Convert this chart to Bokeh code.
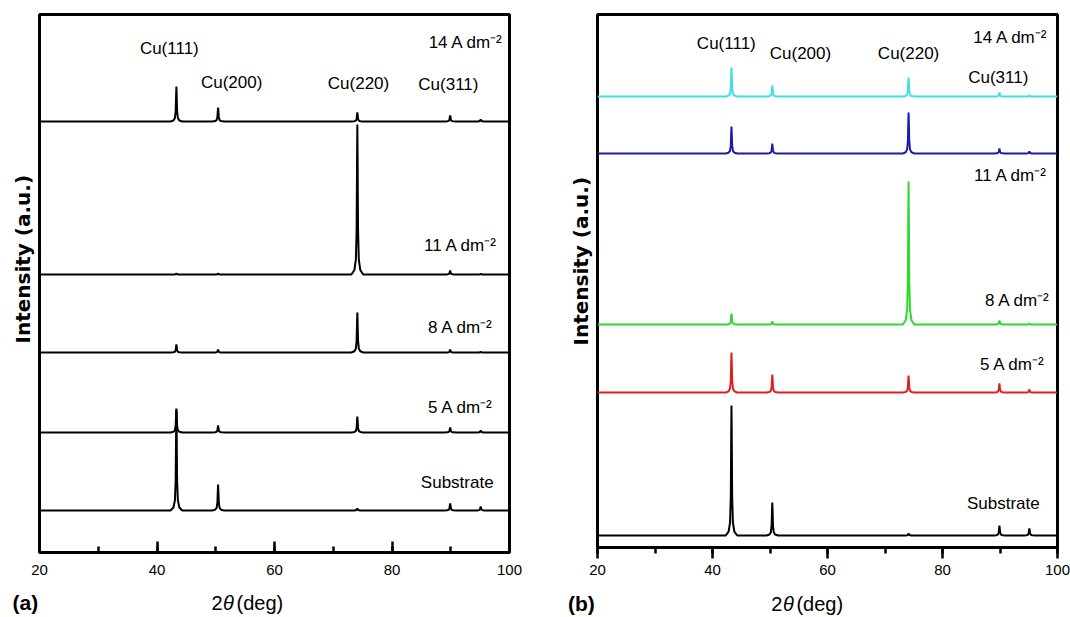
from bokeh.plotting import figure
from bokeh.layouts import row
from bokeh.models import Label, SingleIntervalTicker, Title
from bokeh.embed import file_html
from bokeh.resources import INLINE

# Cu reflections, 2θ in degrees
peak_2theta = [43.3, 50.4, 74.1, 89.9, 95.1]
peak_names = ["Cu(111)", "Cu(200)", "Cu(220)", "Cu(311)"]

# sample order, bottom to top
samples = ["Substrate", "5 A dm⁻²", "8 A dm⁻²", "11 A dm⁻²", "14 A dm⁻²"]

# panel (a): peak heights (a.u.) in peak_2theta order, and vertical offsets
a_substrate = [102, 26, 2, 7, 4]
a_5 = [23, 7, 16, 5, 2]
a_8 = [8, 3, 40, 3, 0.5]
a_11 = [1, 1, 150, 4, 0.5]
a_14 = [35, 14, 9, 6, 2]
a_offsets = [42, 120, 200, 278, 431]

# panel (b)
b_substrate = [130, 33, 2, 10, 7]
b_5 = [40, 18, 17, 9, 3]
b_8 = [11, 3, 143, 4, 1]
b_11 = [27, 10, 41, 5, 2]
b_14 = [29, 11, 19, 4, 1]
b_offsets = [12, 155, 223, 394, 451]

a_heights = [a_substrate, a_5, a_8, a_11, a_14]
b_heights = [b_substrate, b_5, b_8, b_11, b_14]

a_colors = ["black"] * 5
b_colors = ["black", "#e01e1e", "#2ed82e", "#1c1ca6", "#3fe0e0"]

X_MIN, X_MAX = 20, 100

# shape of a single sharp reflection: offsets in 2θ and fraction of peak height
PROFILE_DX = [-1.0, -0.5, -0.25, -0.12, -0.05, 0.0, 0.05, 0.12, 0.25, 0.5, 1.0]
PROFILE_F = [0.0, 0.03, 0.1, 0.3, 0.75, 1.0, 0.75, 0.3, 0.1, 0.03, 0.0]

SANS = "Liberation Sans"


def pattern(heights, offset):
    xs, ys = [X_MIN], [offset]
    for pos, h in zip(peak_2theta, heights):
        for dx, f in zip(PROFILE_DX, PROFILE_F):
            xs.append(pos + dx)
            ys.append(offset + h * f)
    xs.append(X_MAX)
    ys.append(offset)
    return xs, ys


def make_panel(frame_w, frame_h, b_left, b_right, b_top, b_bottom, y_max,
               heights, offsets, colors, ticks_inside):
    p = figure(frame_width=frame_w, frame_height=frame_h,
               x_range=(X_MIN, X_MAX), y_range=(0, y_max),
               output_backend="svg", toolbar_location=None, y_axis_location=None,
               min_border_left=b_left, min_border_right=b_right,
               min_border_top=b_top, min_border_bottom=b_bottom)
    p.grid.visible = False
    p.outline_line_color = "black"
    p.outline_line_width = 3
    p.outline_line_alpha = 1
    p.background_fill_color = "white"
    p.border_fill_color = "white"

    ax = p.xaxis[0]
    ax.ticker = SingleIntervalTicker(interval=20, num_minor_ticks=2)
    ax.axis_line_width = 3
    ax.major_tick_line_width = 2.5
    ax.minor_tick_line_width = 2.5
    if ticks_inside:
        ax.major_tick_in, ax.major_tick_out = 11, 0
        ax.minor_tick_in, ax.minor_tick_out = 6, 0
        ax.major_label_standoff = 12
    else:
        ax.major_tick_in, ax.major_tick_out = 0, 11
        ax.minor_tick_in, ax.minor_tick_out = 0, 6
        ax.major_label_standoff = 6
    ax.major_label_text_font = SANS
    ax.major_label_text_font_size = "15px"
    ax.major_label_text_color = "black"

    for h, off, c in zip(heights, offsets, colors):
        xs, ys = pattern(h, off)
        p.line(xs, ys, line_color=c, line_width=2)
    return p


def add_text(p, x, y, text, size="17px", align="center", font=SANS,
             style="normal", x_offset=0, place=None):
    lbl = Label(x=x, y=y, text=text, text_font=font, text_font_size=size,
                text_font_style=style, text_align=align, text_baseline="middle",
                text_color="black", x_offset=x_offset)
    if place is None:
        p.add_layout(lbl)
    else:
        p.add_layout(lbl, place)


def add_ylabel(p, offset):
    p.add_layout(Title(text="Intensity (a.u.)", align="left", offset=offset,
                       text_font="DejaVu Sans", text_font_size="20px",
                       text_font_style="bold", text_color="black", standoff=10), "left")


def add_xlabel(p, x, y, tag):
    add_text(p, x, y, "2", size="20px", align="right", x_offset=-6, place="below")
    add_text(p, x, y, "θ", size="20px", style="italic", place="below")
    add_text(p, x, y, "(deg)", size="20px", align="left", x_offset=8, place="below")
    add_text(p, tag[0], y, tag[1], size="21px", style="bold", place="below")


# ---- panel (a) ----
pa = make_panel(470, 538, 39, 31, 14, 65, 538, a_heights, a_offsets, a_colors, True)
for name, x, y in zip(peak_names, [42.1, 52.7, 74.3, 89.6], [504, 470, 469, 468]):
    add_text(pa, x, y, name)
for name, x, y in zip(samples, [97.3, 97.3, 97.3, 98.0, 99.0], [70, 145, 225, 307, 510]):
    add_text(pa, x, y, name, align="right")
add_ylabel(pa, 209)
add_xlabel(pa, 52.17, -50, (17.6, "(a)"))

# ---- panel (b) ----
pb = make_panel(460, 533, 57, 13, 14, 70, 533, b_heights, b_offsets, b_colors, False)
for name, x, y in zip(peak_names, [42.4, 55.3, 74.1, 89.7], [504, 494, 494, 470]):
    add_text(pb, x, y, name)
for name, x, y in zip(samples, [96.9, 97.9, 98.8, 98.3, 98.4], [44, 183, 247, 372, 510]):
    add_text(pb, x, y, name, align="right")
add_ylabel(pb, 202)
add_xlabel(pb, 53.2, -56, (17.2, "(b)"))

layout = row(pa, pb)
open("out.html", "w").write(file_html(layout, INLINE))
